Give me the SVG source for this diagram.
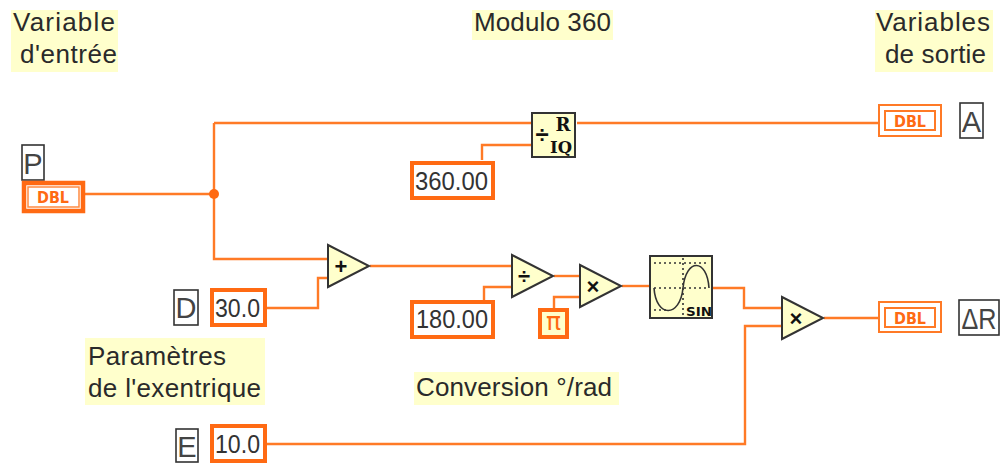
<svg xmlns="http://www.w3.org/2000/svg" width="1004" height="463" viewBox="0 0 1004 463">
<defs>
<style>
text{font-family:"Liberation Sans",Arial,sans-serif;fill:#2a2a2a}
.note{font-size:26px}
.bg{fill:#ffffcc}
.wire{fill:none;stroke:#ff7a26;stroke-width:2.4}
.ctl{fill:#fff;stroke:#ff6a13;stroke-width:4}
.val{font-size:26px;fill:#333}
.lbl{fill:#fff;stroke:#333;stroke-width:1.6}
.ltxt{font-size:29px;text-anchor:middle;fill:#444}
.ter{fill:#fff;stroke:#ff7a26;stroke-width:2}
.dbl{font-size:16px;font-weight:bold;fill:#ff6a13;font-family:"DejaVu Sans",sans-serif}
.fn{fill:#ffffcc;stroke:#333;stroke-width:2}
.op{font-size:22px;font-weight:bold;text-anchor:middle;fill:#111}
.serif{font-family:"DejaVu Serif",serif;font-weight:bold;fill:#111}
.dots{fill:none;stroke:#333;stroke-width:1.6;stroke-dasharray:2 3}
</style>
</defs>
<rect width="1004" height="463" fill="#fff"/>
<g id="connectors">
<path class="wire" d="M85 194H214M214 123V259H328M214 123H531M577 123H878"/>
<path class="wire" d="M531 145H482V160"/>
<path class="wire" d="M267 308H318V278H328"/>
<path class="wire" d="M370 266H512"/>
<path class="wire" d="M484 300V287H512"/>
<path class="wire" d="M554 276H580"/>
<path class="wire" d="M554 308V297H580"/>
<path class="wire" d="M622 286H649"/>
<path class="wire" d="M713 288H744V308H782"/>
<path class="wire" d="M267 444H745V326H782"/>
<path class="wire" d="M824 318H878"/>
<circle cx="214" cy="194" r="5" fill="#ff6a13"/>
</g>
<g id="note-entree">
<rect class="bg" x="11" y="10" width="107" height="62"/>
<text class="note" x="13" y="31" textLength="102">Variable</text><text class="note" x="20" y="63" textLength="97">d'entrée</text>
</g>
<g id="note-modulo">
<rect class="bg" x="472" y="10" width="141" height="30"/>
<text class="note" x="474" y="31" textLength="137">Modulo 360</text>
</g>
<g id="note-sortie">
<rect class="bg" x="875" y="10" width="118" height="62"/>
<text class="note" x="876" y="31" textLength="114">Variables</text><text class="note" x="885" y="63" textLength="101">de sortie</text>
</g>
<g id="note-parametres">
<rect class="bg" x="85" y="338" width="180" height="67"/>
<text class="note" x="88" y="365" textLength="138">Paramètres</text><text class="note" x="88" y="397" textLength="173">de l'exentrique</text>
</g>
<g id="note-conversion">
<rect class="bg" x="414" y="372" width="205" height="33"/>
<text class="note" x="416" y="396" textLength="196">Conversion °/rad</text>
</g>
<g id="label-P"><rect class="lbl" x="22" y="145" width="22" height="35"/><text class="ltxt" x="33" y="174">P</text></g>
<g id="terminal-P">
<rect x="24" y="183" width="59" height="28" fill="#fff" stroke="#ff6a13" stroke-width="4.500"/>
<rect x="28" y="187" width="51" height="20" fill="#fff" stroke="#ff8a40" stroke-width="1.500"/>
<text class="dbl" x="37" y="203" textLength="32" lengthAdjust="spacingAndGlyphs">DBL</text>
</g>
<g id="quotient">
<rect class="fn" x="532" y="113" width="43" height="44"/>
<text class="op" x="542" y="143" style="font-size:24px">÷</text>
<text class="serif" x="563" y="131" text-anchor="middle" style="font-size:18px">R</text>
<text class="serif" x="550" y="153" textLength="22" lengthAdjust="spacingAndGlyphs" style="font-size:16px">IQ</text>
</g>
<g id="const-360"><rect class="ctl" x="412" y="163" width="81" height="35"/><text class="val" x="415" y="190" textLength="73" lengthAdjust="spacingAndGlyphs">360.00</text></g>
<g id="terminal-A">
<rect class="ter" x="879" y="105" width="62" height="31"/>
<rect class="ter" x="885" y="111" width="50" height="19"/>
<text class="dbl" x="894" y="127" textLength="32" lengthAdjust="spacingAndGlyphs">DBL</text>
</g>
<g id="label-A"><rect class="lbl" x="960" y="103" width="23" height="35"/><text class="ltxt" x="971.500" y="132">A</text></g>
<g id="add">
<path class="fn" d="M328 245L369 266L328 287Z"/>
<text class="op" x="341" y="274">+</text>
</g>
<g id="label-D"><rect class="lbl" x="174" y="290" width="24" height="35"/><text class="ltxt" x="186" y="318">D</text></g>
<g id="const-30"><rect class="ctl" x="212" y="290" width="53" height="35"/><text class="val" x="215" y="317" textLength="45" lengthAdjust="spacingAndGlyphs">30.0</text></g>
<g id="divide">
<path class="fn" d="M512 255L553 276L512 297Z"/>
<text class="op" x="524" y="284">÷</text>
</g>
<g id="const-180"><rect class="ctl" x="412" y="302" width="81" height="35"/><text class="val" x="416" y="328" textLength="72" lengthAdjust="spacingAndGlyphs">180.00</text></g>
<g id="multiply-1">
<path class="fn" d="M580 265L621 286L580 307Z"/>
<text class="op" x="593" y="294">×</text>
</g>
<g id="const-pi">
<rect x="540" y="310" width="27" height="27" fill="#ffffcc" stroke="#ff6a13" stroke-width="4"/>
<text x="553.500" y="330" text-anchor="middle" style="font-family:'DejaVu Sans',sans-serif;font-size:25px;fill:#ff6a13">π</text>
</g>
<g id="sine">
<rect class="fn" x="650" y="256" width="62" height="62"/>
<path class="dots" d="M654 263H708M654 288H708M654 310H668M683 258V316"/>
<path d="M654 288C656 318 680 318 683 288C686 258 707 258 709 288" fill="none" stroke="#333" stroke-width="1.600"/>
<text x="686" y="316" textLength="26" lengthAdjust="spacingAndGlyphs" style="font-family:'DejaVu Sans',sans-serif;font-size:11.500px;font-weight:bold;fill:#111">SIN</text>
</g>
<g id="multiply-2">
<path class="fn" d="M782 297L823 318L782 339Z"/>
<text class="op" x="796" y="326">×</text>
</g>
<g id="terminal-R">
<rect class="ter" x="879" y="302" width="62" height="30"/>
<rect class="ter" x="885" y="308" width="50" height="19"/>
<text class="dbl" x="894" y="323.500" textLength="32" lengthAdjust="spacingAndGlyphs">DBL</text>
</g>
<g id="label-R"><rect class="lbl" x="959" y="300" width="40" height="35"/><text class="ltxt" x="979" y="329" textLength="35" lengthAdjust="spacingAndGlyphs">ΔR</text></g>
<g id="label-E"><rect class="lbl" x="176" y="429" width="22" height="33"/><text class="ltxt" x="187" y="457">E</text></g>
<g id="const-10"><rect class="ctl" x="212" y="426" width="53" height="35"/><text class="val" x="215" y="453" textLength="45" lengthAdjust="spacingAndGlyphs">10.0</text></g>
</svg>
